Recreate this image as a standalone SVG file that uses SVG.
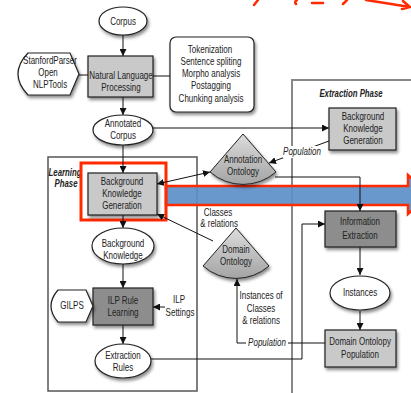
<svg xmlns="http://www.w3.org/2000/svg" width="411" height="393" viewBox="0 0 411 393">
<style>
text{font-family:"Liberation Sans",Arial,sans-serif;font-size:10px;fill:#222;text-anchor:middle;transform-box:fill-box;transform-origin:center;transform:scaleX(0.8)}
.t{font-weight:bold;font-style:italic;transform:scaleX(0.78)}
.i{font-style:italic}
.box{fill:#c9c9c9;stroke:#222;stroke-width:1.2;filter:url(#sh)}
.dark{fill:#8d8d8d;stroke:#222;stroke-width:1.2;filter:url(#sh)}
.ell{fill:#fff;stroke:#222;stroke-width:1.2;filter:url(#sh)}
.ont{fill:url(#og);stroke:#222;stroke-width:1;filter:url(#sh)}
.c{fill:none;stroke:#111;stroke-width:1}
.a{marker-end:url(#ah)}
.red{fill:none;stroke:#ff2a00;stroke-width:2.5;stroke-linecap:round}
</style>
<defs>
<filter id="sh" x="-20%" y="-20%" width="150%" height="160%"><feDropShadow dx="1.5" dy="2.5" stdDeviation="1.5" flood-color="#000" flood-opacity="0.45"/></filter>
<linearGradient id="og" x1="0" y1="0" x2="0" y2="1"><stop offset="0" stop-color="#dcdcdc"/><stop offset="1" stop-color="#a4a4a4"/></linearGradient>
<marker id="ah" viewBox="0 0 10 10" refX="10" refY="5" markerWidth="7" markerHeight="7" markerUnits="userSpaceOnUse" orient="auto-start-reverse"><path d="M0,0 L10,5 L0,10 Z" fill="#111"/></marker>
</defs>
<rect width="411" height="393" fill="#fff"/>

<!-- red annotations -->
<g id="red-marks">
<path class="red" d="M258,0 L254,5"/>
<path class="red" d="M297,0 Q294,2 296,4"/>
<path class="red" d="M312,3 L323,3"/>
<path class="red" d="M347,0 L343,4"/>
<path class="red" d="M366,0 L410,7 M403,1 L410,7 L402,9"/>
</g>

<!-- phases -->
<g id="learning-phase">
<rect x="48" y="157" width="149" height="234" fill="#fff" stroke="#555" stroke-width="1.5"/>
<text class="t" x="65" y="176">Learning</text>
<text class="t" x="66" y="187">Phase</text>
</g>
<g id="extraction-phase">
<rect x="292" y="80" width="125" height="320" fill="#fff" stroke="#888" stroke-width="2"/>
<text class="t" x="351" y="97">Extraction Phase</text>
</g>

<!-- highlight band -->
<g id="highlight">
<path d="M166,186 H408 V175 L430,195 L408,214 V205 H166 Z" fill="#5b8fc8" fill-opacity="0.92" stroke="#ff2a00" stroke-width="2.5"/>
<rect x="81" y="163" width="85" height="57" fill="none" stroke="#ff2a00" stroke-width="3"/>
</g>

<!-- connectors -->
<g id="connectors">
<path class="c a" d="M123,35 V56"/>
<path class="c" d="M79,75 H88"/>
<path class="c" d="M153,76 H170"/>
<path class="c a" d="M123,97 V115"/>
<path class="c a" d="M152,128 H329"/>
<path class="c a" d="M123,145 V173"/>
<path class="c" d="M157,184 L210,172" marker-start="url(#ah)" marker-end="url(#ah)"/>
<path class="c a" d="M329,141 L269,163"/>
<path class="c a" d="M275,177 H360 V211"/>
<path class="c a" d="M213,241 L157,214"/>
<path class="c a" d="M123,215 V228"/>
<path class="c a" d="M123,264 V288"/>
<path class="c a" d="M165,307 H153"/>
<path class="c a" d="M123,325 V344"/>
<path class="c a" d="M151,359 H302 V224 H325"/>
<path class="c a" d="M360,247 V275"/>
<path class="c a" d="M360,311 V330"/>
<path class="c a" d="M325,343 H237 V279"/>
<rect x="283" y="146" width="39" height="12" fill="#fff"/>
<text class="i" x="302" y="155.5">Population</text>
<rect x="246" y="337" width="42" height="12" fill="#fff"/>
<text class="i" x="267" y="346.5">Population</text>
<text x="218" y="216.5">Classes</text>
<text x="219" y="227.5">&amp; relations</text>
<text x="261" y="299.5">Instances of</text>
<text x="261" y="312.5">Classes</text>
<text x="261" y="324.5">&amp; relations</text>
<text x="179" y="303.5">ILP</text>
<text x="180" y="316.5">Settings</text>
</g>

<!-- nodes -->
<g id="corpus"><ellipse class="ell" cx="123" cy="21" rx="24" ry="14"/><text x="123" y="25">Corpus</text></g>
<g id="nlp"><rect class="box" x="88" y="56" width="65" height="41"/><text x="121" y="79">Natural Language</text><text x="121" y="91">Processing</text></g>
<g id="stanford"><path class="ell" d="M28,53 H70 L79,74 L70,95 H28 Q8,74 28,53 Z"/><text x="50" y="64.5">StanfordParser</text><text x="48" y="76.5">Open</text><text x="50" y="88">NLPTools</text></g>
<g id="nlp-tasks"><rect x="170" y="37" width="84" height="75" rx="6" fill="#fff" stroke="#222" stroke-width="1.2" filter="url(#sh)"/>
<text x="210" y="53.5">Tokenization</text><text x="211" y="65.5">Sentence spliting</text><text x="211" y="77.5">Morpho analysis</text><text x="211" y="89.5">Postagging</text><text x="211" y="102">Chunking analysis</text></g>
<g id="annotated-corpus"><ellipse class="ell" cx="123" cy="130" rx="30" ry="15"/><text x="123" y="127">Annotated</text><text x="123" y="139.5">Corpus</text></g>
<g id="bkg-extraction"><rect class="box" x="329" y="108" width="67" height="42"/><text x="363" y="120.5">Background</text><text x="363" y="132.5">Knowledge</text><text x="363" y="144.5">Generation</text></g>
<g id="annotation-ontology"><path class="ont" d="M243,134 L210,172 A50,50 0 0 0 276,172 Z"/><text x="243" y="163.5">Annotation</text><text x="243" y="175.5">Ontology</text></g>
<g id="bkg-learning"><rect class="box" x="88" y="173" width="69" height="42"/><text x="122" y="185.5">Background</text><text x="122" y="197.5">Knowledge</text><text x="122" y="209.5">Generation</text></g>
<g id="domain-ontology"><path class="ont" d="M236,228 L203,266 A50,50 0 0 0 269,266 Z"/><text x="236" y="253.5">Domain</text><text x="236" y="265.5">Ontology</text></g>
<g id="information-extraction"><rect class="dark" x="325" y="211" width="71" height="36"/><text x="360" y="225.5">Information</text><text x="360" y="239">Extraction</text></g>
<g id="background-knowledge"><ellipse class="ell" cx="123" cy="246" rx="31" ry="18"/><text x="123" y="247.5">Background</text><text x="123" y="259.5">Knowledge</text></g>
<g id="instances"><ellipse class="ell" cx="360" cy="293" rx="30" ry="17"/><text x="360" y="296.5">Instances</text></g>
<g id="ilp"><rect class="dark" x="93" y="288" width="60" height="37"/><text x="123" y="304.5">ILP Rule</text><text x="123" y="316.5">Learning</text></g>
<g id="gilps"><path class="ell" d="M58,290 H86 L93,306 L86,322 H58 Q44,306 58,290 Z"/><text x="72" y="309.5">GILPS</text></g>
<g id="domain-ontology-population"><rect class="box" x="325" y="330" width="71" height="37"/><text x="360" y="345.5">Domain Ontolopy</text><text x="360" y="358">Population</text></g>
<g id="extraction-rules"><ellipse class="ell" cx="123" cy="361" rx="28" ry="17"/><text x="123" y="359.5">Extraction</text><text x="123" y="371.5">Rules</text></g>
</svg>
